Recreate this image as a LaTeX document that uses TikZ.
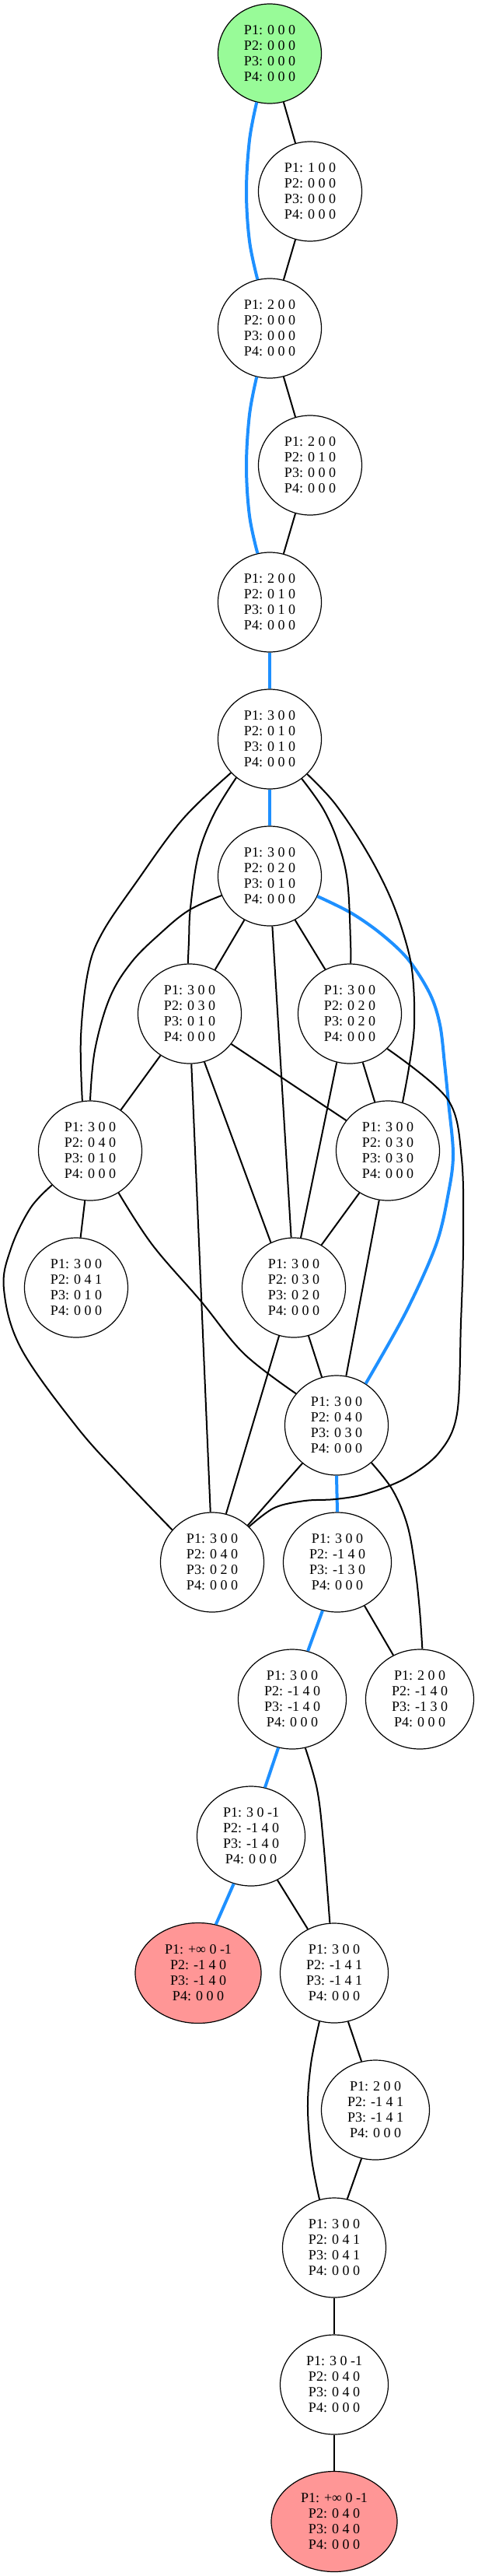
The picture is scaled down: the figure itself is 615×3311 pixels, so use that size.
\documentclass[tikz,border=0pt]{standalone}
\usepackage{fontspec}
\setmainfont{Liberation Serif}
\usetikzlibrary{shapes.geometric}
\definecolor{pgreen}{RGB}{152,251,152}
\definecolor{pred}{RGB}{255,150,150}
\definecolor{dblue}{RGB}{30,144,255}
\newcommand{\ptxt}[4]{P1: #1\\P2: #2\\P3: #3\\P4: #4}
\begin{document}
\begin{tikzpicture}[x=1pt,y=-1pt,
  st/.style={ellipse, draw, line width=1.2pt, fill=white, inner sep=0pt,
    minimum width=133pt, minimum height=128pt, align=center,
    font=\fontsize{18}{20}\selectfont},
  wd/.style={st, minimum width=139pt},
  inf/.style={st, minimum width=162pt, minimum height=129pt, fill=pred},
  edge/.style={line width=2pt, black},
  hl/.style={line width=4pt, dblue}]
\useasboundingbox (0,0) rectangle (615,3311);
% nodes
\node[st, fill=pgreen] (N1) at (347,69) {\ptxt{0 0 0}{0 0 0}{0 0 0}{0 0 0}};
\node[st] (N2) at (399,246) {\ptxt{1 0 0}{0 0 0}{0 0 0}{0 0 0}};
\node[st] (N3) at (347,422) {\ptxt{2 0 0}{0 0 0}{0 0 0}{0 0 0}};
\node[st] (N4) at (399,598) {\ptxt{2 0 0}{0 1 0}{0 0 0}{0 0 0}};
\node[st] (N5) at (347,774) {\ptxt{2 0 0}{0 1 0}{0 1 0}{0 0 0}};
\node[st] (N6) at (347,950) {\ptxt{3 0 0}{0 1 0}{0 1 0}{0 0 0}};
\node[st] (N7) at (347,1126) {\ptxt{3 0 0}{0 2 0}{0 1 0}{0 0 0}};
\node[st] (N8) at (244,1303) {\ptxt{3 0 0}{0 3 0}{0 1 0}{0 0 0}};
\node[st] (N9) at (450,1303) {\ptxt{3 0 0}{0 2 0}{0 2 0}{0 0 0}};
\node[st] (N10) at (116,1479) {\ptxt{3 0 0}{0 4 0}{0 1 0}{0 0 0}};
\node[st] (N11) at (499,1479) {\ptxt{3 0 0}{0 3 0}{0 3 0}{0 0 0}};
\node[st] (N12) at (98,1655) {\ptxt{3 0 0}{0 4 1}{0 1 0}{0 0 0}};
\node[st] (N13) at (378,1655) {\ptxt{3 0 0}{0 3 0}{0 2 0}{0 0 0}};
\node[st] (N14) at (433,1832) {\ptxt{3 0 0}{0 4 0}{0 3 0}{0 0 0}};
\node[st] (N15) at (273,2008) {\ptxt{3 0 0}{0 4 0}{0 2 0}{0 0 0}};
\node[wd] (N16) at (434,2008) {\ptxt{3 0 0}{-1 4 0}{-1 3 0}{0 0 0}};
\node[wd] (N17) at (376,2184) {\ptxt{3 0 0}{-1 4 0}{-1 4 0}{0 0 0}};
\node[wd] (N18) at (540,2184) {\ptxt{2 0 0}{-1 4 0}{-1 3 0}{0 0 0}};
\node[wd] (N19) at (323,2360) {\ptxt{3 0 -1}{-1 4 0}{-1 4 0}{0 0 0}};
\node[inf] (N20) at (255,2536) {\ptxt{+∞ 0 -1}{-1 4 0}{-1 4 0}{0 0 0}};
\node[wd] (N21) at (430,2536) {\ptxt{3 0 0}{-1 4 1}{-1 4 1}{0 0 0}};
\node[wd] (N22) at (483,2712) {\ptxt{2 0 0}{-1 4 1}{-1 4 1}{0 0 0}};
\node[st] (N23) at (430,2889) {\ptxt{3 0 0}{0 4 1}{0 4 1}{0 0 0}};
\node[wd] (N24) at (430,3065) {\ptxt{3 0 -1}{0 4 0}{0 4 0}{0 0 0}};
\node[inf] (N25) at (430,3241) {\ptxt{+∞ 0 -1}{0 4 0}{0 4 0}{0 0 0}};
% highlighted edges
\draw[hl] plot[smooth, tension=0.6] coordinates {(N1.255) (321,180) (317,246) (321,310) (N3.104)};
\draw[hl] plot[smooth, tension=0.6] coordinates {(N3.255) (321,533) (317,599) (321,663) (N5.104)};
\draw[hl] (N5.south) -- (N6.north);
\draw[hl] (N6.south) -- (N7.north);
\draw[hl] plot[smooth, tension=0.55] coordinates {(N7.337) (451,1173) (490,1200) (525,1233) (553,1277) (566,1317) (572,1367) (577,1417) (583,1483) (577,1533) (561,1600) (522,1687) (N14.55)};
\draw[hl] (N14.south) -- (N16.north);
\draw[hl] (N16.253) -- (N17.72);
\draw[hl] (N17.254) -- (N19.74);
\draw[hl] (N19.250) -- (N20.70);
% black edges
\draw[edge] (N1.286) -- (N2.107);
\draw[edge] (N2.253) -- (N3.74);
\draw[edge] (N3.286) -- (N4.107);
\draw[edge] (N4.253) -- (N5.74);
\draw[edge] plot[smooth, tension=0.6] coordinates {(N6.221) (235,1053) (176,1133) (131,1200) (113,1250) (104,1333) (N10.99)};
\draw[edge] plot[smooth, tension=0.6] coordinates {(N7.202) (243,1170) (206,1200) (169,1237) (141,1283) (122,1350) (N10.90)};
\draw[edge] plot[smooth, tension=0.6] coordinates {(N6.229) (275,1047) (255,1100) (245,1167) (243,1210) (N8.92)};
\draw[edge] plot[smooth, tension=0.6] coordinates {(N6.309) (416,1040) (435,1083) (447,1133) (451,1210) (N9.89)};
\draw[edge] plot[smooth, tension=0.6] coordinates {(N6.317) (431,1033) (471,1093) (502,1153) (522,1210) (531,1255) (533,1317) (527,1367) (N11.73)};
\draw[edge] (N7.240) -- (N8.60);
\draw[edge] (N7.273) -- (N13.93);
\draw[edge] (N7.300) -- (N9.119);
\draw[edge] (N8.235) -- (N10.53);
\draw[edge] (N8.324) -- (N11.144);
\draw[edge] (N8.272) -- (N15.92);
\draw[edge] (N8.287) -- (N13.117);
\draw[edge] (N9.285) -- (N11.105);
\draw[edge] (N9.255) -- (N13.82);
\draw[edge] plot[smooth, tension=0.55] coordinates {(N9.317) (576,1413) (594,1490) (596,1600) (593,1700) (588,1817) (565,1867) (522,1900) (471,1920) (431,1927) (392,1929) (353,1938) (N15.44)};
\draw[edge] (N10.264) -- (N12.85);
\draw[edge] plot[smooth, tension=0.6] coordinates {(N10.304) (196,1600) (259,1673) (314,1740) (N14.142)};
\draw[edge] plot[smooth, tension=0.6] coordinates {(N10.222) (39,1553) (14,1605) (5,1657) (27,1733) (98,1833) (158,1900) (N15.141)};
\draw[edge] (N11.236) -- (N13.57);
\draw[edge] (N11.260) -- (N14.79);
\draw[edge] (N13.287) -- (N14.107);
\draw[edge] (N13.253) -- (N15.74);
\draw[edge] (N14.228) -- (N15.46);
\draw[edge] plot[smooth, tension=0.6] coordinates {(N14.313) (505,1915) (524,1960) (534,2015) (540,2070) (N18.87)};
\draw[edge] (N16.302) -- (N18.121);
\draw[edge] plot[smooth, tension=0.6] coordinates {(N17.285) (408,2300) (416,2367) (N21.95)};
\draw[edge] (N19.301) -- (N21.121);
\draw[edge] (N21.286) -- (N22.106);
\draw[edge] plot[smooth, tension=0.6] coordinates {(N21.253) (400,2653) (396,2710) (401,2775) (N23.107)};
\draw[edge] (N22.254) -- (N23.75);
\draw[edge] (N23.south) -- (N24.north);
\draw[edge] (N24.south) -- (N25.north);
\end{tikzpicture}
\end{document}
